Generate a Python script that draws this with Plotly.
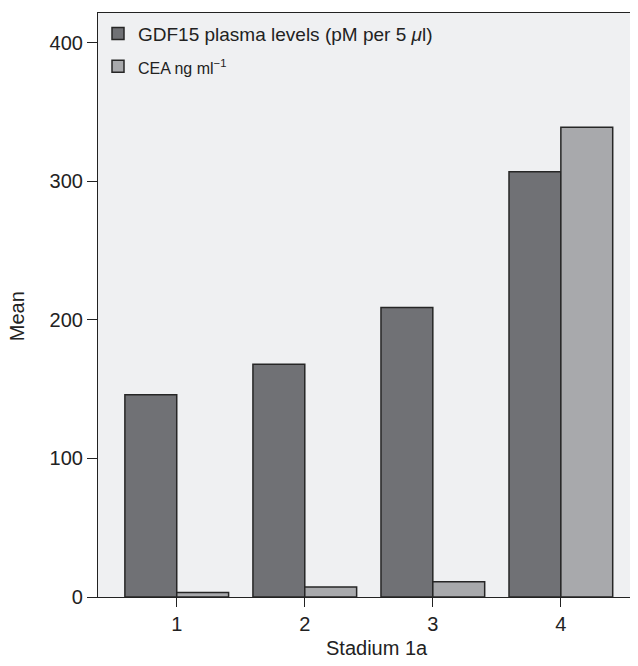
import plotly.graph_objects as go

stages = [1, 2, 3, 4]
gdf15 = [146, 168, 209, 307]
cea = [3.2, 7.2, 11, 339]
tick_vals = [0, 100, 200, 300, 400]

font_family = "Liberation Sans, Arial, Helvetica, sans-serif"

fig = go.Figure()
fig.add_trace(go.Bar(
    x=stages, y=gdf15,
    name="GDF15 plasma levels (pM per 5 <i>μ</i>l)",
    marker=dict(color="#707175", line=dict(color="#262626", width=1.5)),
    legendgroup="a",
))
fig.add_trace(go.Bar(
    x=stages, y=cea,
    name="<span style='font-size:16px'>CEA ng ml<sup>−1</sup></span>",
    marker=dict(color="#a8a9ac", line=dict(color="#262626", width=1.5)),
    legendgroup="b",
))

fig.update_layout(
    width=622, height=650,
    margin=dict(l=90, r=0, t=5, b=61, autoexpand=False),
    paper_bgcolor="white",
    plot_bgcolor="#eff0f2",
    barmode="group",
    bargap=0.19,
    bargroupgap=0,
    font=dict(family=font_family, size=20, color="#222"),
    legend=dict(
        x=0.0, y=0.997, xanchor="left", yanchor="top",
        bgcolor="rgba(0,0,0,0)",
        font=dict(family=font_family, size=19, color="#222"),
        tracegroupgap=5,
    ),
    xaxis=dict(
        range=[0.385, 4.54],
        tickvals=stages,
        ticks="outside", ticklen=9, tickwidth=1.2, tickcolor="#222",
        showline=True, linecolor="#222", linewidth=1.2, mirror=True,
        showgrid=False, zeroline=False, automargin=False,
    ),
    yaxis=dict(
        range=[0, 421.5],
        tickvals=tick_vals,
        ticks="outside", ticklen=10, tickwidth=1.2, tickcolor="#222",
        showline=True, linecolor="#222", linewidth=1.2, mirror=False,
        showgrid=False, zeroline=False, automargin=False,
    ),
    annotations=[
        dict(text="Stadium 1a", xref="paper", yref="paper",
             x=0.524, y=-0.087, xanchor="center", yanchor="middle",
             showarrow=False, font=dict(family=font_family, size=20, color="#222")),
        dict(text="Mean", xref="paper", yref="paper",
             x=-0.152, y=0.481, xanchor="center", yanchor="middle",
             textangle=-90, showarrow=False,
             font=dict(family=font_family, size=20, color="#222")),
    ],
)

fig.write_html("out.html")
